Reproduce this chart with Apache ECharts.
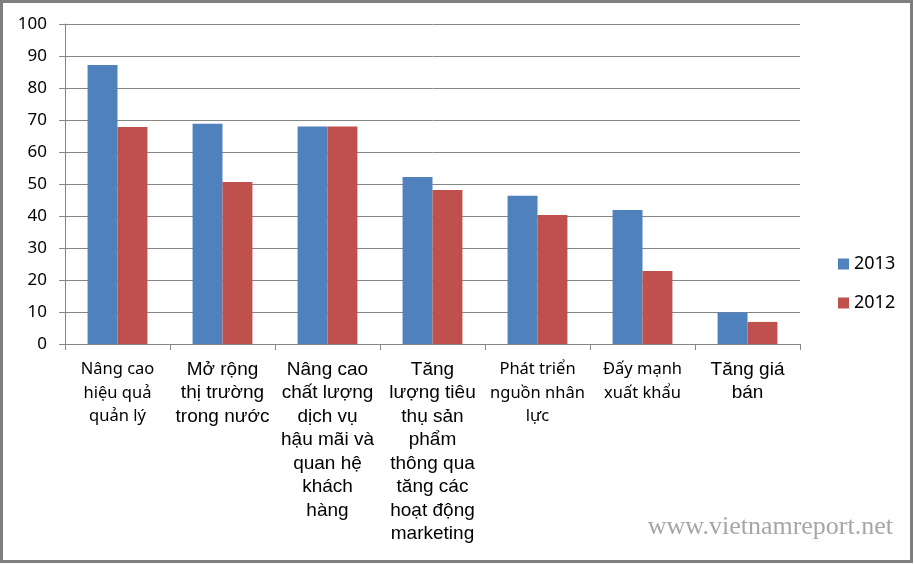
<!DOCTYPE html>
<html><head><meta charset="utf-8">
<script src="https://cdn.jsdelivr.net/npm/echarts@6/dist/echarts.min.js"></script>
<style>html,body{margin:0;padding:0;background:#fff}#c{width:914px;height:564px}</style>
</head><body><div id="c"></div>
<script>
const categories = [
  "Nâng cao\nhiệu quả\nquản lý",
  "Mở rộng\nthị trường\ntrong nước",
  "Nâng cao\nchất lượng\ndịch vụ\nhậu mãi và\nquan hệ\nkhách\nhàng",
  "Tăng\nlượng tiêu\nthụ sản\nphẩm\nthông qua\ntăng các\nhoạt động\nmarketing",
  "Phát triển\nnguồn nhân\nlực",
  "Đấy mạnh\nxuất khẩu",
  "Tăng giá\nbán"
];
const labelFontStyle = ["a", "b", "b", "b", "a", "a", "b"];
const series2013 = [87.2, 68.8, 68, 52.2, 46.3, 41.9, 9.9];
const series2012 = [67.8, 50.6, 68, 48.1, 40.3, 22.8, 6.9];
const yTicks = [0, 10, 20, 30, 40, 50, 60, 70, 80, 90, 100];

const chart = echarts.init(document.getElementById('c'));
chart.setOption({
  animation: false,
  backgroundColor: '#fff',
  grid: { left: 65, right: 114, top: 24, bottom: 220 },
  legend: {
    orient: 'vertical', left: 833, top: 250, itemGap: 21,
    itemWidth: 11, itemHeight: 11, icon: 'rect',
    textStyle: { fontFamily: 'Noto Sans', fontSize: 18, color: '#000' },
    data: ['2013', '2012']
  },
  xAxis: {
    type: 'category', data: categories,
    axisLine: { lineStyle: { color: '#868686', width: 1 } },
    axisTick: { show: true, length: 6, alignWithLabel: false, lineStyle: { color: '#868686' } },
    axisLabel: {
      interval: 0, margin: 14, color: '#000',
      formatter: (v, i) => v.split('\n').map(l => '{' + labelFontStyle[i] + '|' + l + '}').join('\n'),
      rich: {
        a: { fontFamily: 'Noto Sans', fontSize: 16.5, lineHeight: 23.5, color: '#000' },
        b: { fontFamily: 'Liberation Sans', fontSize: 19, lineHeight: 23.5, color: '#000' }
      }
    }
  },
  yAxis: {
    type: 'value', min: yTicks[0], max: yTicks[yTicks.length - 1], interval: 10,
    axisLine: { show: true, lineStyle: { color: '#868686' } },
    axisTick: { show: true, length: 6, lineStyle: { color: '#868686' } },
    splitLine: { lineStyle: { color: '#868686', width: 1 } },
    axisLabel: { margin: 18, color: '#000', fontFamily: 'Noto Sans', fontSize: 17 }
  },
  series: [
    { name: '2013', type: 'bar', data: series2013, itemStyle: { color: '#4F81BD' }, barGap: '0%', barCategoryGap: '43%' },
    { name: '2012', type: 'bar', data: series2012, itemStyle: { color: '#C0504D' }, barGap: '0%', barCategoryGap: '43%' }
  ],
  graphic: [
    { type: 'rect', shape: { x: 1.5, y: 1.5, width: 910, height: 560 }, style: { fill: 'none', stroke: '#7f7f7f', lineWidth: 3 }, silent: true },
    { type: 'text', right: 21, top: 514, style: { text: 'www.vietnamreport.net', font: '26px "Liberation Serif"', fill: '#a6a6a6' } }
  ]
});
</script></body></html>
